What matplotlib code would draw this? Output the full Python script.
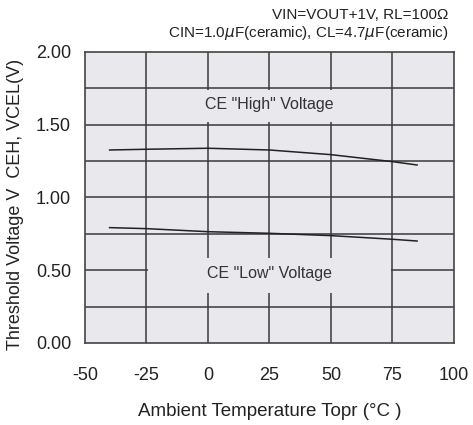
import matplotlib
matplotlib.use("Agg")
import matplotlib.pyplot as plt
from matplotlib.patches import Rectangle

plt.rcParams['font.family'] = ['Liberation Sans', 'DejaVu Sans']

temp = [-40, -25, 0, 25, 50, 75, 85]
v_high = [1.325, 1.33, 1.337, 1.325, 1.293, 1.245, 1.222]
v_low = [0.792, 0.785, 0.764, 0.753, 0.737, 0.712, 0.700]
xticks = [-50, -25, 0, 25, 50, 75, 100]
yticks = [0.00, 0.50, 1.00, 1.50, 2.00]
ygrid = [0.25, 0.5, 0.75, 1.0, 1.25, 1.5, 1.75]

bg = '#e8e8ed'
gc = '#3a3a3a'

fig = plt.figure(figsize=(4.73, 4.25), dpi=100)
ax = fig.add_axes([0.1797, 0.193, 0.7801, 0.6854])
ax.set_facecolor(bg)
ax.set_xlim(-50, 100)
ax.set_ylim(0, 2)

for x in xticks[1:-1]:
    ax.axvline(x, color=gc, lw=1.1, zorder=1)
for y in ygrid:
    ax.axhline(y, color=gc, lw=1.1, zorder=1)

# label masks
ax.add_patch(Rectangle((-24.3, 1.515), 98.6, 0.225, facecolor=bg, edgecolor='none', zorder=2))
ax.add_patch(Rectangle((-24.3, 0.345), 98.6, 0.235, facecolor=bg, edgecolor='none', zorder=2))

ax.plot(temp, v_high, color='#222222', lw=1.1, zorder=3)
ax.plot(temp, v_low, color='#222222', lw=1.1, zorder=3)

ax.text(25, 1.64, 'CE "High" Voltage', ha='center', va='center', fontsize=11.5, color='#333333', zorder=4)
ax.text(25, 0.48, 'CE "Low" Voltage', ha='center', va='center', fontsize=11.5, color='#333333', zorder=4)

ax.set_xticks(xticks)
ax.set_xticklabels([str(v) for v in xticks])
ax.set_yticks(yticks)
ax.set_yticklabels(['%.2f' % v for v in yticks])
ax.tick_params(length=0, labelsize=13, colors='#222222')
ax.tick_params(axis='x', pad=17)
ax.tick_params(axis='y', pad=10)
for s in ax.spines.values():
    s.set_color('#444444')
    s.set_linewidth(1.2)

ax.set_xlabel('Ambient Temperature Topr (°C )', fontsize=13.5, color='#222222', labelpad=14)
fig.text(0.032, 0.52, 'Threshold Voltage V  CEH, VCEL(V)', rotation=90, ha='center', va='center',
         fontsize=13, color='#222222')

fig.text(0.948, 0.965, 'VIN=VOUT+1V, RL=100Ω', ha='right', va='center', fontsize=11, color='#222222')
fig.text(0.948, 0.922, r'CIN=1.0$\mu$F(ceramic), CL=4.7$\mu$F(ceramic)', ha='right', va='center',
         fontsize=11, color='#222222')

fig.savefig('out.png', dpi=100, facecolor='white')
